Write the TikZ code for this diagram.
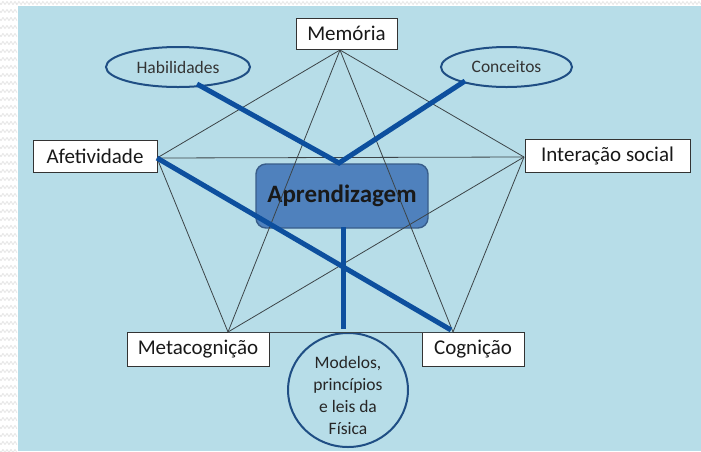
\documentclass[tikz,border=0pt]{standalone}
\usepackage{fontspec}
\setmainfont{Carlito}
\usetikzlibrary{shapes.geometric}
\definecolor{bgblue}{HTML}{B7DDE8}
\definecolor{hubfill}{HTML}{4F81BD}
\definecolor{hubdraw}{HTML}{385D8A}
\definecolor{ovaldraw}{HTML}{1F4E84}
\definecolor{linkblue}{HTML}{0D4F9E}
\definecolor{thin}{HTML}{3C4448}
\definecolor{wave}{HTML}{E3E3E3}
\tikzset{
  conceptbox/.style={draw=black!80, line width=0.8pt, fill=white, inner sep=0pt,
    font=\fontsize{21}{25}\selectfont, text=black!90},
  oval/.style={ellipse, draw=ovaldraw, line width=2pt, fill=bgblue, inner sep=0pt,
    font=\fontsize{17.5}{21}\selectfont, text=black!80},
  hub/.style={draw=hubdraw, line width=1.4pt, fill=hubfill, rounded corners=10pt,
    inner sep=0pt, font=\fontsize{25}{30}\selectfont\bfseries, text=black!90},
  web/.style={draw=thin, line width=0.8pt},
  strong/.style={draw=linkblue, line width=5pt}
}
\begin{document}
\begin{tikzpicture}[x=1pt,y=-1pt]
  % page and slide background
  \fill[white] (0,0) rectangle (701,451);
  \useasboundingbox (0,0) rectangle (701,451);
  \foreach \r in {0,8,...,448}
    \draw[wave, line width=0.7pt] plot[domain=0:17,samples=30] (\x,{\r+3+1.5*sin(\x*90)});
  \foreach \c in {16,24,...,696}
    \draw[wave, line width=0.7pt] plot[domain=0:8,samples=12] ({\c+\x},{3+1.5*sin(\x*90)});
  \fill[bgblue] (18,6) rectangle (701,451);

  % central node
  \node[hub, minimum width=172pt, minimum height=64pt] (hub) at (342,196) {Aprendizagem};

  % surrounding concepts
  \node[conceptbox, minimum width=101pt, minimum height=31pt] (mem) at (346.5,33.5) {Memória};
  \node[conceptbox, minimum width=124pt, minimum height=32pt] (afe) at (95,156) {Afetividade};
  \node[conceptbox, minimum width=165pt, minimum height=33pt] (int) at (607.5,155.5) {Interação social};
  \node[conceptbox, minimum width=142pt, minimum height=34pt] (met) at (198,349) {Metacognição};
  \node[conceptbox, minimum width=102pt, minimum height=34pt] (cog) at (473,349) {Cognição};

  \node[oval, minimum width=144pt, minimum height=40pt] (hab) at (178,67) {Habilidades};
  \node[oval, minimum width=131pt, minimum height=40pt] (con) at (506.5,67) {Conceitos};
  \node[ellipse, draw=ovaldraw, line width=2pt, fill=bgblue, minimum width=120pt,
        minimum height=114pt, inner sep=0pt] (fis) at (348,390) {};
  \node[align=center, font=\fontsize{17.5}{22}\selectfont, text=black!85] (fistext) at (348,395)
    {Modelos,\\princípios\\e leis da\\Física};

  % attachment points of the web
  \coordinate (pmem) at (340,50);
  \coordinate (pafe) at (157,158);
  \coordinate (pint) at (524,157);
  \coordinate (pmet) at (228,332);
  \coordinate (pcog) at (453,332);
  \coordinate (vtip) at (339,163);
  \coordinate (hubtop) at (343,227);
  \coordinate (fistop) at (343,329);
  \coordinate (habend) at (197,84);
  \coordinate (conend) at (465,81);
  \coordinate (cogend) at (451,330);

  % web of relations between the five concepts
  \draw[web] (pmem) -- (pafe);
  \draw[web] (pmem) -- (pint);
  \draw[web] (pmem) -- (pmet);
  \draw[web] (pmem) -- (pcog);
  \draw[web] (pafe) -- (pint);
  \draw[web] (pafe) -- (pmet);
  \draw[web] (pint) -- (pmet);
  \draw[web] (pint) -- (pcog);
  \draw[web] (pmet) -- (pcog);

  % strong links
  \draw[strong] (habend) -- (vtip) -- (conend);
  \draw[strong] (hubtop) -- (fistop);
  \draw[strong] (pafe) -- (cogend);
\end{tikzpicture}
\end{document}
